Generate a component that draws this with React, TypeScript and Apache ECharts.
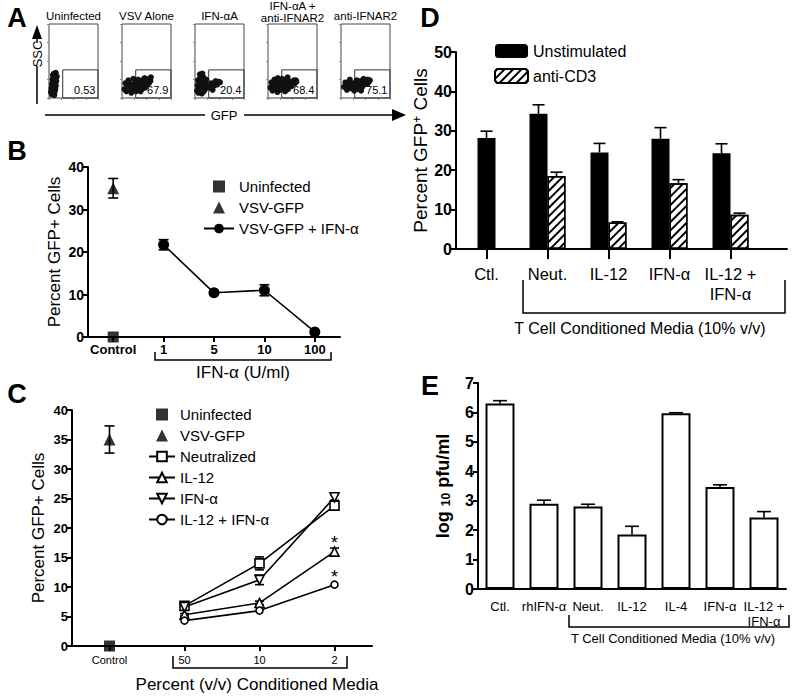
import React, { useEffect, useRef } from 'react';
import * as echarts from 'echarts';

const FONT = '"Liberation Sans", Arial, Helvetica, sans-serif';

// ---------------- Panel A (flow cytometry, GFP vs SSC) ----------------
const facsTitles = ['Uninfected', 'VSV Alone', 'IFN-αA', 'IFN-αA +\nanti-IFNAR2', 'anti-IFNAR2'];
const facsPercents = ['0.53', '67.9', '20.4', '68.4', '75.1'];
const facsGateX = 28;
const facsGateY = 38;
const facsUninfected = [[4,8],[6,5],[8,10],[10,6],[12,9],[5,13],[7,15],[9,12],[11,14],[13,12],[6,19],[8,21],[10,18],[12,20],[14,17],[7,25],[9,27],[11,24],[13,26],[15,23],[8,31],[10,33],[12,30],[14,34],[16,29],[9,8],[11,4],[6,10],[13,16],[10,22]];
const facsVsvAlone = [[5,12],[7,20],[9,9],[11,16],[13,24],[15,11],[17,19],[19,7],[21,15],[23,26],[25,12],[27,20],[29,9],[31,17],[33,25],[35,13],[36,21],[38,9],[39,16],[41,24],[42,13],[43,19],[45,17],[46,27],[47,14],[48,22],[49,19],[51,18],[52,25],[53,22],[55,20],[56,26],[58,23],[59,28],[44,21],[40,12],[50,24],[37,18]];
const facsIfnA = [[4,10],[5,17],[6,24],[7,7],[8,13],[9,20],[10,27],[11,10],[12,16],[13,23],[14,6],[15,13],[16,19],[17,28],[18,9],[19,15],[20,22],[21,12],[22,18],[23,25],[10,32],[15,33],[30,14],[33,20],[36,11],[39,17],[42,23],[45,18],[48,22],[51,21]];
const facsIfnAAnti = [[5,14],[7,21],[9,10],[11,17],[13,25],[15,12],[17,19],[19,8],[21,16],[23,23],[25,11],[27,18],[29,26],[31,13],[33,20],[35,9],[37,16],[39,24],[41,12],[43,19],[45,18],[47,22],[48,16],[51,21],[53,24],[55,20],[57,24],[58,22],[20,27],[40,28]];
const facsAnti = [[6,15],[9,21],[12,11],[15,18],[18,25],[21,13],[24,20],[27,10],[30,17],[32,24],[34,12],[36,19],[38,15],[39,23],[41,10],[42,17],[44,21],[44,16],[46,26],[47,19],[49,20],[50,19],[51,24],[52,22],[54,19],[55,25],[57,22],[59,24],[43,15],[48,24]];

// ---------------- Panel B ----------------
const bCategories = ['Control', '1', '5', '10', '100'];
const bUninfected = [0, null, null, null, null];
const bVsvGfp = [35, null, null, null, null];
const bVsvGfpErr = [2.3, null, null, null, null];
const bIfn = [null, 21.7, 10.4, 11.0, 1.2];
const bIfnErr = [null, 1.2, 0.3, 1.3, 0.3];

// ---------------- Panel C ----------------
const cCategories = ['Control', '50', '10', '2'];
const cUninfected = [0, null, null, null];
const cVsvGfp = [35, null, null, null];
const cVsvGfpErr = [2.3, null, null, null];
const cNeutralized = [null, 6.8, 14.0, 23.8];
const cNeutralizedErr = [null, 0.4, 1.1, 0.6];
const cIl12 = [null, 5.3, 7.3, 16.0];
const cIl12Err = [null, 0.2, 0.3, 0.6];
const cIfn = [null, 6.6, 11.2, 25.2];
const cIfnErr = [null, 0.3, 0.8, 0.5];
const cCombo = [null, 4.3, 6.0, 10.4];
const cComboErr = [null, 0.2, 0.2, 0.2];
const cStarIndex = 3;

// ---------------- Panel D ----------------
const dCategories = ['Ctl.', 'Neut.', 'IL-12', 'IFN-α', 'IL-12 +\nIFN-α'];
const dUnstim = [28.2, 34.3, 24.5, 28.0, 24.3];
const dUnstimErr = [1.7, 2.3, 2.3, 2.8, 2.4];
const dAnti = [null, 18.5, 6.7, 16.7, 8.7];
const dAntiErr = [null, 1.0, 0.2, 0.9, 0.4];

// ---------------- Panel E ----------------
const eCategories = ['Ctl.', 'rhIFN-α', 'Neut.', 'IL-12', 'IL-4', 'IFN-α', 'IL-12 +\nIFN-α'];
const eMean = [6.3, 2.9, 2.8, 1.85, 5.97, 3.47, 2.43];
const eErr = [0.1, 0.12, 0.08, 0.28, 0.02, 0.07, 0.2];

// ---------------- helpers ----------------
const pairs = (arr: (number | null)[]) =>
  arr.map((v, i) => (v == null ? null : [i, v])).filter((d) => d != null);

const errData = (mean: (number | null)[], err: (number | null)[], both: boolean, keep?: (i: number) => boolean) =>
  mean
    .map((m, i) => {
      if (m == null || err[i] == null) return null;
      if (keep && !keep(i)) return null;
      const e = err[i] as number;
      return [i, both ? m - e : m, m + e];
    })
    .filter((d) => d != null);

function errorSeries(xi: number, yi: number, data: any[], offset: number, cap: number, both: boolean) {
  return {
    type: 'custom',
    xAxisIndex: xi,
    yAxisIndex: yi,
    silent: true,
    z: 4,
    clip: false,
    data,
    renderItem: (_p: any, api: any) => {
      const x = api.value(0);
      const lo = api.coord([x, api.value(1)]);
      const hi = api.coord([x, api.value(2)]);
      const cx = lo[0] + offset;
      const st = { stroke: '#000', lineWidth: 1.6 };
      const children: any[] = [
        { type: 'line', shape: { x1: cx, y1: lo[1], x2: cx, y2: hi[1] }, style: st },
        { type: 'line', shape: { x1: cx - cap / 2, y1: hi[1], x2: cx + cap / 2, y2: hi[1] }, style: st },
      ];
      if (both) {
        children.push({ type: 'line', shape: { x1: cx - cap / 2, y1: lo[1], x2: cx + cap / 2, y2: lo[1] }, style: st });
      }
      return { type: 'group', children };
    },
  };
}

const axisLine = { show: true, lineStyle: { color: '#000', width: 2 } };
const yTick = { show: true, length: 5, lineStyle: { color: '#000', width: 2 } };

const A_LEFTS = [49, 122, 195, 268, 341];
const A_TOP = 24;
const A_W = 49;
const A_H = 74;

const SQUARE_ICON = 'path://M0,0H10V10H0Z';
const TRIANGLE_ICON = 'path://M5,0L10,10H0Z';

function txt(x: number, y: number, text: string, size: number, weight = 'normal', extra: any = {}) {
  return {
    type: 'text',
    x,
    y,
    ...extra,
    style: {
      text,
      fontSize: size,
      fontWeight: weight,
      fontFamily: FONT,
      fill: '#000',
      align: 'center',
      verticalAlign: 'middle',
      textAlign: 'center',
      textVerticalAlign: 'middle',
      lineHeight: size + 1,
    },
  };
}

function bracket(x1: number, x2: number, yTop: number, yBot: number) {
  return {
    type: 'polyline',
    shape: { points: [[x1, yTop], [x1, yBot], [x2, yBot], [x2, yTop]] },
    style: { stroke: '#000', lineWidth: 1.5, fill: null },
  };
}

export default function App() {
  const ref = useRef<HTMLDivElement>(null);

  useEffect(() => {
    if (!ref.current) return;
    const chart = echarts.init(ref.current, null, { renderer: 'svg' });
    const clouds = [facsUninfected, facsVsvAlone, facsIfnA, facsIfnAAnti, facsAnti];

    const grids: any[] = [
      ...A_LEFTS.map((l) => ({ left: l, top: A_TOP, width: A_W, height: A_H, show: true, borderColor: '#444', borderWidth: 1, backgroundColor: 'rgba(0,0,0,0)' })),
      { left: 88, top: 167, width: 252, height: 170 }, // 5 B
      { left: 72, top: 410, width: 300, height: 236 }, // 6 C
      { left: 456, top: 52, width: 305, height: 197 }, // 7 D data
      { left: 456, top: 52, width: 331, height: 197 }, // 8 D frame
      { left: 478, top: 383, width: 308, height: 206 }, // 9 E
    ];

    const facsAxis = (i: number) => ({
      gridIndex: i,
      type: 'value',
      min: 0,
      max: 100,
      interval: 25,
      axisLine: { show: false },
      axisTick: { show: true, length: 2, lineStyle: { color: '#888' } },
      axisLabel: { show: false },
      splitLine: { show: false },
    });

    const xAxis: any[] = [
      ...A_LEFTS.map((_, i) => facsAxis(i)),
      {
        gridIndex: 5, type: 'category', data: bCategories, boundaryGap: true, axisLine,
        axisTick: { show: true, alignWithLabel: true, interval: 0, length: 5, lineStyle: { color: '#000', width: 2 } },
        axisLabel: { interval: 0, fontFamily: FONT, fontWeight: 'bold', fontSize: 13, color: '#000', margin: 6 },
      },
      {
        gridIndex: 6, type: 'category', data: cCategories, boundaryGap: true, axisLine,
        axisTick: { show: true, alignWithLabel: true, interval: 0, length: 5, lineStyle: { color: '#000', width: 2 } },
        axisLabel: { interval: 0, fontFamily: FONT, fontSize: 11, color: '#000', margin: 8 },
      },
      {
        gridIndex: 7, type: 'category', data: dCategories, boundaryGap: true, axisLine: { show: false },
        axisTick: { show: true, alignWithLabel: true, interval: 0, length: 10, lineStyle: { color: '#000', width: 2 } },
        axisLabel: { interval: 0, fontFamily: FONT, fontSize: 16.5, color: '#000', margin: 15, lineHeight: 20 },
      },
      { gridIndex: 7, type: 'category', data: dCategories, show: false },
      { gridIndex: 8, type: 'value', min: 0, max: 1, axisLine, axisTick: { show: false }, axisLabel: { show: false }, splitLine: { show: false } },
      {
        gridIndex: 9, type: 'category', data: eCategories, boundaryGap: true, axisLine,
        axisTick: { show: false },
        axisLabel: { interval: 0, fontFamily: FONT, fontSize: 13, color: '#000', margin: 10, lineHeight: 15 },
      },
    ];

    const yAxis: any[] = [
      ...A_LEFTS.map((_, i) => facsAxis(i)),
      {
        gridIndex: 5, type: 'value', min: 0, max: 40, interval: 10, axisLine, axisTick: yTick, splitLine: { show: false },
        axisLabel: { fontFamily: FONT, fontWeight: 'bold', fontSize: 14, color: '#000', margin: 4 },
        name: 'Percent GFP+ Cells', nameLocation: 'middle', nameGap: 25,
        nameTextStyle: { fontFamily: FONT, fontSize: 17, color: '#000' },
      },
      {
        gridIndex: 6, type: 'value', min: 0, max: 40, interval: 5, axisLine, axisTick: yTick, splitLine: { show: false },
        axisLabel: { fontFamily: FONT, fontWeight: 'bold', fontSize: 13, color: '#000', margin: 4 },
        name: 'Percent GFP+ Cells', nameLocation: 'middle', nameGap: 25,
        nameTextStyle: { fontFamily: FONT, fontSize: 17, color: '#000' },
      },
      {
        gridIndex: 7, type: 'value', min: 0, max: 50, interval: 10, axisLine, axisTick: yTick, splitLine: { show: false },
        axisLabel: { fontFamily: FONT, fontWeight: 'bold', fontSize: 16, color: '#000', margin: 4 },
        name: '{a|Percent GFP}{s|+}{a| Cells}', nameLocation: 'middle', nameGap: 19,
        nameTextStyle: {
          rich: {
            a: { fontFamily: FONT, fontSize: 19, color: '#000' },
            s: { fontFamily: FONT, fontSize: 12, color: '#000', verticalAlign: 'top', padding: [0, 0, 8, 0] },
          },
        },
      },
      { gridIndex: 8, type: 'value', min: 0, max: 50, show: false },
      {
        gridIndex: 9, type: 'value', min: 0, max: 7, interval: 1, axisLine, axisTick: yTick, splitLine: { show: false },
        axisLabel: { fontFamily: FONT, fontWeight: 'bold', fontSize: 16, color: '#000', margin: 4 },
        name: '{a|log }{s|10}{a| pfu/ml}', nameLocation: 'middle', nameGap: 26,
        nameTextStyle: {
          rich: {
            a: { fontFamily: FONT, fontSize: 18, fontWeight: 'bold', color: '#000' },
            s: { fontFamily: FONT, fontSize: 12, fontWeight: 'bold', color: '#000', verticalAlign: 'bottom', padding: [6, 0, 0, 0] },
          },
        },
      },
    ];

    const series: any[] = [];

    // Panel A
    clouds.forEach((cloud, i) => {
      series.push({
        type: 'scatter',
        xAxisIndex: i,
        yAxisIndex: i,
        data: cloud,
        symbol: 'circle',
        symbolSize: 6,
        silent: true,
        itemStyle: { color: '#111', opacity: 1, borderWidth: 0 },
        markArea: {
          silent: true,
          itemStyle: { color: 'rgba(0,0,0,0)', borderColor: '#333', borderWidth: 1 },
          label: { show: true, position: 'insideBottomRight', formatter: facsPercents[i], color: '#000', fontSize: 11, fontFamily: FONT, distance: 3 },
          data: [[{ xAxis: facsGateX, yAxis: 0 }, { xAxis: 100, yAxis: facsGateY }]],
        },
      });
    });

    // Panel B
    series.push(
      { name: 'Uninfected', type: 'scatter', xAxisIndex: 5, yAxisIndex: 5, data: pairs(bUninfected), symbol: 'rect', symbolSize: 11, itemStyle: { color: '#000' }, clip: false, z: 5 },
      { name: 'VSV-GFP', type: 'scatter', xAxisIndex: 5, yAxisIndex: 5, data: pairs(bVsvGfp), symbol: 'triangle', symbolSize: 12, itemStyle: { color: '#000' }, clip: false, z: 5 },
      { name: 'VSV-GFP + IFN-α', type: 'line', xAxisIndex: 5, yAxisIndex: 5, data: pairs(bIfn), symbol: 'circle', symbolSize: 11, itemStyle: { color: '#000' }, lineStyle: { color: '#000', width: 1.6 }, clip: false, z: 5 },
      errorSeries(5, 5, errData(bVsvGfp, bVsvGfpErr, true), 0, 10, true),
      errorSeries(5, 5, errData(bIfn, bIfnErr, true), 0, 10, true),
    );

    // Panel C
    const openItem = { color: '#fff', borderColor: '#000', borderWidth: 1.6 };
    const star = (arr: (number | null)[]) =>
      pairs(arr).map((d: any) =>
        d[0] === cStarIndex
          ? { value: d, label: { show: true, formatter: '*', position: 'top', distance: 0, offset: [0, 6], fontSize: 18, fontFamily: FONT, color: '#000' } }
          : d,
      );
    series.push(
      { name: 'Uninfected', type: 'scatter', xAxisIndex: 6, yAxisIndex: 6, data: pairs(cUninfected), symbol: 'rect', symbolSize: 11, itemStyle: { color: '#000' }, clip: false, z: 5 },
      { name: 'VSV-GFP', type: 'scatter', xAxisIndex: 6, yAxisIndex: 6, data: pairs(cVsvGfp), symbol: 'triangle', symbolSize: 12, itemStyle: { color: '#000' }, clip: false, z: 5 },
      { name: 'Neutralized', type: 'line', xAxisIndex: 6, yAxisIndex: 6, data: pairs(cNeutralized), symbol: 'rect', symbolSize: 9, showAllSymbol: true, itemStyle: openItem, lineStyle: { color: '#000', width: 1.6 }, z: 5 },
      { name: 'IL-12', type: 'line', xAxisIndex: 6, yAxisIndex: 6, data: star(cIl12), symbol: 'triangle', symbolSize: 9, itemStyle: openItem, lineStyle: { color: '#000', width: 1.6 }, z: 5 },
      { name: 'IFN-α', type: 'line', xAxisIndex: 6, yAxisIndex: 6, data: pairs(cIfn), symbol: 'triangle', symbolRotate: 180, symbolSize: 9, itemStyle: openItem, lineStyle: { color: '#000', width: 1.6 }, z: 5 },
      { name: 'IL-12 + IFN-α', type: 'line', xAxisIndex: 6, yAxisIndex: 6, data: star(cCombo), symbol: 'circle', symbolSize: 7, itemStyle: openItem, lineStyle: { color: '#000', width: 1.6 }, z: 5 },
      errorSeries(6, 6, errData(cVsvGfp, cVsvGfpErr, true), 0, 10, true),
      errorSeries(6, 6, errData(cNeutralized, cNeutralizedErr, true), 0, 9, true),
      errorSeries(6, 6, errData(cIl12, cIl12Err, true), 0, 9, true),
      errorSeries(6, 6, errData(cIfn, cIfnErr, true), 0, 9, true),
      errorSeries(6, 6, errData(cCombo, cComboErr, true), 0, 7, true),
    );

    // Panel D
    const hatch = {
      symbol: 'rect',
      symbolSize: 1,
      color: '#000',
      backgroundColor: '#fff',
      dashArrayX: [1, 0],
      dashArrayY: [2, 3.5],
      rotation: -Math.PI / 4,
    };
    series.push(
      { name: 'Unstimulated', type: 'bar', xAxisIndex: 8, yAxisIndex: 7, data: dUnstim.map((v, i) => (i === 0 ? v : '-')), barWidth: 18, itemStyle: { color: '#000' } },
      { name: 'Unstimulated', type: 'bar', xAxisIndex: 7, yAxisIndex: 7, data: dUnstim.map((v, i) => (i === 0 ? '-' : v)), barWidth: 18, barGap: '0%', itemStyle: { color: '#000' } },
      { name: 'anti-CD3', type: 'bar', xAxisIndex: 7, yAxisIndex: 7, data: dAnti.map((v) => (v == null ? '-' : v)), barWidth: 18, barGap: '0%', itemStyle: { color: '#fff', borderColor: '#000', borderWidth: 1.5, decal: hatch } },
      errorSeries(8, 7, errData(dUnstim, dUnstimErr, false, (i) => i === 0), 0, 12, false),
      errorSeries(7, 7, errData(dUnstim, dUnstimErr, false, (i) => i > 0), -9, 12, false),
      errorSeries(7, 7, errData(dAnti, dAntiErr, false), 9, 12, false),
    );

    // Panel E
    series.push(
      { name: 'log10 pfu/ml', type: 'bar', xAxisIndex: 10, yAxisIndex: 9, data: eMean, barWidth: 29, itemStyle: { color: '#fff', borderColor: '#000', borderWidth: 2 } },
      errorSeries(10, 9, errData(eMean, eErr, false), 0, 14, false),
    );

    const legendText = (size: number) => ({ fontFamily: FONT, fontSize: size, color: '#000' });

    const graphics: any[] = [
      txt(17, 18, 'A', 27, 'bold'),
      txt(17, 151, 'B', 27, 'bold'),
      txt(17, 394, 'C', 27, 'bold'),
      txt(430, 18, 'D', 27, 'bold'),
      txt(430, 386, 'E', 27, 'bold'),
      ...facsTitles.map((t, i) => txt(A_LEFTS[i] + A_W / 2, t.includes('\n') ? 12 : 16, t, 11.5)),
      // SSC arrow
      { type: 'polygon', shape: { points: [[32, 39], [42, 39], [37, 25]] }, style: { fill: '#000' } },
      { type: 'line', shape: { x1: 37, y1: 38, x2: 37, y2: 43 }, style: { stroke: '#000', lineWidth: 1.5 } },
      txt(37, 54, 'SSC', 13, 'normal', { rotation: Math.PI / 2 }),
      { type: 'line', shape: { x1: 37, y1: 66, x2: 37, y2: 104 }, style: { stroke: '#000', lineWidth: 1.5 } },
      // GFP arrow
      { type: 'line', shape: { x1: 45, y1: 115, x2: 205, y2: 115 }, style: { stroke: '#000', lineWidth: 1.5 } },
      txt(224, 115, 'GFP', 13),
      { type: 'line', shape: { x1: 244, y1: 115, x2: 395, y2: 115 }, style: { stroke: '#000', lineWidth: 1.5 } },
      { type: 'polygon', shape: { points: [[392, 109], [392, 121], [406, 115]] }, style: { fill: '#000' } },
      // brackets
      bracket(155, 331, 352, 360),
      txt(243, 372, 'IFN-α (U/ml)', 17),
      bracket(173, 347, 656, 668),
      txt(257, 684, 'Percent (v/v) Conditioned Media', 17),
      bracket(523, 785, 280, 313),
      txt(640, 328, 'T Cell Conditioned Media (10% v/v)', 16),
      bracket(569, 789, 615, 627),
      txt(673, 638, 'T Cell Conditioned Media (10% v/v)', 13),
    ];

    chart.setOption({
      animation: false,
      backgroundColor: '#fff',
      textStyle: { fontFamily: FONT },
      grid: grids,
      xAxis,
      yAxis,
      legend: [
        {
          data: [
            { name: 'Uninfected', icon: SQUARE_ICON },
            { name: 'VSV-GFP', icon: TRIANGLE_ICON },
            'VSV-GFP + IFN-α',
          ],
          left: 198, top: 174, orient: 'vertical', symbolKeepAspect: true,
          itemGap: 6, itemWidth: 30, itemHeight: 12, selectedMode: false, textStyle: legendText(15),
        },
        {
          data: [
            { name: 'Uninfected', icon: SQUARE_ICON },
            { name: 'VSV-GFP', icon: TRIANGLE_ICON },
            'Neutralized', 'IL-12', 'IFN-α', 'IL-12 + IFN-α',
          ],
          left: 143, top: 402, orient: 'vertical', symbolKeepAspect: true,
          itemGap: 6, itemWidth: 26, itemHeight: 12, selectedMode: false, textStyle: legendText(15),
        },
        {
          data: ['Unstimulated', 'anti-CD3'], left: 489, top: 38, orient: 'vertical',
          itemGap: 9, itemWidth: 33, itemHeight: 14, selectedMode: false, textStyle: legendText(16),
        },
      ],
      series,
      graphic: graphics,
    });

    return () => chart.dispose();
  }, []);

  return <div ref={ref} style={{ position: 'absolute', left: 0, top: 0, width: 800, height: 698, background: '#fff' }} />;
}
